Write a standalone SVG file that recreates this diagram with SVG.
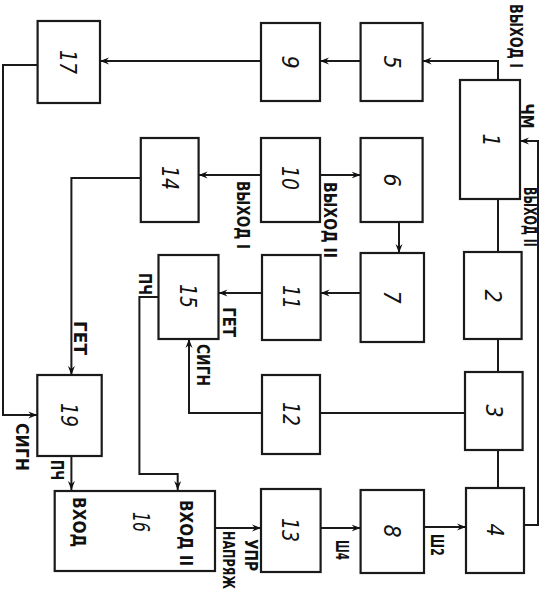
<svg xmlns="http://www.w3.org/2000/svg" width="546" height="601" viewBox="0 0 546 601">
<defs>
<marker id="ah" markerUnits="userSpaceOnUse" markerWidth="10" markerHeight="8" refX="9" refY="4" orient="auto">
<path d="M0,0.5 L9,4 L0,7.5 L3,4 Z" fill="#111"/>
</marker>
<style>
.b{fill:#fff;stroke:#1a1a1a;stroke-width:2.2}
.c{fill:none;stroke:#1a1a1a;stroke-width:2}
.a{marker-end:url(#ah)}
.n{font-family:"DejaVu Sans Condensed","DejaVu Sans",sans-serif;font-size:23px;fill:#111;text-anchor:middle;dominant-baseline:central;font-style:italic}
.t{font-family:"DejaVu Sans Condensed","DejaVu Sans",sans-serif;font-size:17px;font-weight:bold;fill:#111;text-anchor:middle;dominant-baseline:central}
</style>
</defs>
<rect width="546" height="601" fill="#fff"/>
<g id="connectors">
<path class="c a" d="M498,80 V61 H422.6"/>
<path class="c a" d="M360.6,61 H320"/>
<path class="c a" d="M261,61 H100"/>
<path class="c a" d="M37.6,65 H3 V415 H37.3"/>
<path class="c a" d="M524,525 H538 V141 H520"/>
<path class="c" d="M498,199 V252"/>
<path class="c" d="M498,339 V372"/>
<path class="c" d="M498,450 V488"/>
<path class="c a" d="M320,175 H360.6"/>
<path class="c a" d="M261,175 H198.6"/>
<path class="c a" d="M140.8,178 H71.4 V375"/>
<path class="c a" d="M399,222 V253"/>
<path class="c a" d="M360.6,293 H320.6"/>
<path class="c a" d="M262,293 H218.5"/>
<path class="c a" d="M158.5,297 H139.4 V474 H177.7 V490"/>
<path class="c a" d="M262,413 H189 V339"/>
<path class="c" d="M465,413 H320"/>
<path class="c a" d="M71.4,456 V490"/>
<path class="c a" d="M215,528 H261"/>
<path class="c a" d="M320.6,528 H360.6"/>
<path class="c a" d="M424,527 H466"/>
</g>
<g id="n1"><rect class="b" x="460" y="80" width="60" height="119"/><text class="n" transform="translate(491,140) rotate(90)">1</text></g>
<g id="n2"><rect class="b" x="464" y="252" width="57.6" height="87"/><text class="n" transform="translate(493,296) rotate(90)">2</text></g>
<g id="n3"><rect class="b" x="465" y="372" width="57.6" height="78"/><text class="n" transform="translate(494,411) rotate(90)">3</text></g>
<g id="n4"><rect class="b" x="466" y="488" width="58" height="85"/><text class="n" transform="translate(495,530) rotate(90)">4</text></g>
<g id="n5"><rect class="b" x="360.6" y="23" width="62" height="78"/><text class="n" transform="translate(392,62) rotate(90)">5</text></g>
<g id="n6"><rect class="b" x="360.6" y="138" width="62" height="84"/><text class="n" transform="translate(392,180) rotate(90)">6</text></g>
<g id="n7"><rect class="b" x="360.6" y="253" width="63.4" height="89"/><text class="n" transform="translate(392,297) rotate(90)">7</text></g>
<g id="n8"><rect class="b" x="360.6" y="490" width="63.4" height="83"/><text class="n" transform="translate(392,531) rotate(90)">8</text></g>
<g id="n9"><rect class="b" x="261" y="23" width="59" height="78"/><text class="n" transform="translate(290,62) rotate(90)">9</text></g>
<g id="n10"><rect class="b" x="261" y="138" width="59" height="84"/><text class="n" transform="translate(290,178) rotate(90)" textLength="24" lengthAdjust="spacingAndGlyphs">10</text></g>
<g id="n11"><rect class="b" x="262" y="255" width="58.6" height="85"/><text class="n" transform="translate(291,297) rotate(90)" textLength="24" lengthAdjust="spacingAndGlyphs">11</text></g>
<g id="n12"><rect class="b" x="262" y="375" width="58" height="79"/><text class="n" transform="translate(291,414) rotate(90)" textLength="24" lengthAdjust="spacingAndGlyphs">12</text></g>
<g id="n13"><rect class="b" x="261" y="489" width="59.6" height="83"/><text class="n" transform="translate(290,530) rotate(90)" textLength="24" lengthAdjust="spacingAndGlyphs">13</text></g>
<g id="n14"><rect class="b" x="140.8" y="138" width="57.8" height="84"/><text class="n" transform="translate(170,178) rotate(90)" textLength="24" lengthAdjust="spacingAndGlyphs">14</text></g>
<g id="n15"><rect class="b" x="158.5" y="255" width="60" height="84"/><text class="n" transform="translate(188,296) rotate(90)" textLength="24" lengthAdjust="spacingAndGlyphs">15</text></g>
<g id="n16"><rect class="b" x="54.7" y="491" width="160.3" height="80"/><text class="n" transform="translate(141,522) rotate(90)" textLength="20" lengthAdjust="spacingAndGlyphs">16</text>
<text class="t" transform="translate(79,522) rotate(90)" textLength="50" lengthAdjust="spacingAndGlyphs">ВХОД</text>
<text class="t" transform="translate(186,533) rotate(90)" textLength="66" lengthAdjust="spacingAndGlyphs">ВХОД II</text></g>
<g id="n17"><rect class="b" x="37.6" y="21" width="62.4" height="82"/><text class="n" transform="translate(68,62) rotate(90)" textLength="24" lengthAdjust="spacingAndGlyphs">17</text></g>
<g id="n19"><rect class="b" x="37.3" y="375" width="64.4" height="81"/><text class="n" transform="translate(69,415) rotate(90)" textLength="24" lengthAdjust="spacingAndGlyphs">19</text></g>
<g id="labels">
<text class="t" transform="translate(516,36) rotate(90)" textLength="64" lengthAdjust="spacingAndGlyphs">ВЫХОД I</text>
<text class="t" transform="translate(527,116) rotate(90)" textLength="25" lengthAdjust="spacingAndGlyphs">ЧМ</text>
<text class="t" transform="translate(530,217) rotate(90)" textLength="60" lengthAdjust="spacingAndGlyphs">ВЫХОД II</text>
<text class="t" transform="translate(330,220) rotate(90)" textLength="76" lengthAdjust="spacingAndGlyphs">ВЫХОД II</text>
<text class="t" transform="translate(243,215) rotate(90)" textLength="68" lengthAdjust="spacingAndGlyphs">ВЫХОД I</text>
<text class="t" transform="translate(229,322) rotate(90)" textLength="30" lengthAdjust="spacingAndGlyphs">ГЕТ</text>
<text class="t" transform="translate(145,284) rotate(90)" textLength="22" lengthAdjust="spacingAndGlyphs">ПЧ</text>
<text class="t" transform="translate(203,365) rotate(90)" textLength="42" lengthAdjust="spacingAndGlyphs">СИГН</text>
<text class="t" transform="translate(80,338) rotate(90)" textLength="34" lengthAdjust="spacingAndGlyphs">ГЕТ</text>
<text class="t" transform="translate(22,447) rotate(90)" textLength="48" lengthAdjust="spacingAndGlyphs">СИГН</text>
<text class="t" transform="translate(57,470) rotate(90)" textLength="20" lengthAdjust="spacingAndGlyphs">ПЧ</text>
<text class="t" transform="translate(251,555) rotate(90)" textLength="32" lengthAdjust="spacingAndGlyphs">УПР</text>
<text class="t" style="font-size:15px" transform="translate(228,560) rotate(90)" textLength="58" lengthAdjust="spacingAndGlyphs">НАПРЯЖ</text>
<text class="t" transform="translate(342,550) rotate(90)" textLength="20" lengthAdjust="spacingAndGlyphs">Ш4</text>
<text class="t" transform="translate(437,545) rotate(90)" textLength="22" lengthAdjust="spacingAndGlyphs">Ш2</text>
</g>
</svg>
